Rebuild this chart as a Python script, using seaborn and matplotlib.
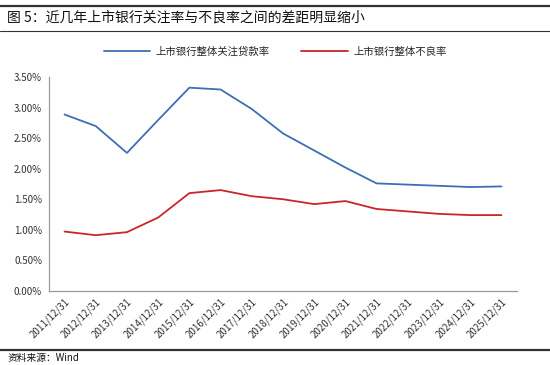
import numpy as np
import pandas as pd
import seaborn as sns
import matplotlib.pyplot as plt
from matplotlib.lines import Line2D
from matplotlib.ticker import FixedLocator, PercentFormatter

dates = ["2011/12/31", "2012/12/31", "2013/12/31", "2014/12/31", "2015/12/31",
         "2016/12/31", "2017/12/31", "2018/12/31", "2019/12/31", "2020/12/31",
         "2021/12/31", "2022/12/31", "2023/12/31", "2024/12/31", "2025/12/31"]
attention_rate = [2.89, 2.70, 2.26, 2.80, 3.33, 3.30, 2.98, 2.58, 2.30, 2.02,
                  1.76, 1.74, 1.72, 1.70, 1.71]
npl_rate = [0.97, 0.91, 0.96, 1.20, 1.60, 1.65, 1.55, 1.50, 1.42, 1.47,
            1.34, 1.30, 1.26, 1.24, 1.24]
series_names = ["上市银行整体关注贷款率", "上市银行整体不良率"]
colors = ["#3C6FB6", "#C8262B"]

sns.set_style("white")
plt.rcParams["font.family"] = ["Noto Sans CJK SC", "DejaVu Sans"]

df = pd.DataFrame({"idx": list(range(len(dates))) * 2,
                   "rate": attention_rate + npl_rate,
                   "series": [series_names[0]] * len(dates) + [series_names[1]] * len(dates)})

fig = plt.figure(figsize=(5.5, 3.65), dpi=100)
ax = fig.add_axes([0.089, 0.2036, 0.851, 0.5846])
sns.lineplot(data=df, x="idx", y="rate", hue="series", palette=colors,
             linewidth=1.3, ax=ax, legend=False)

ax.set_xlim(-0.5, len(dates) - 0.5)
ax.set_ylim(0, 3.5)
ax.set_yticks(np.arange(0, 3.51, 0.5))
ax.yaxis.set_major_formatter(PercentFormatter(decimals=2))
# ticks between categories, labels centred on the categories
ax.xaxis.set_major_locator(FixedLocator(np.arange(-0.5, len(dates), 1.0)))
ax.set_xticklabels([])
ax.xaxis.set_minor_locator(FixedLocator(np.arange(len(dates))))
ax.set_xticklabels(dates, minor=True, rotation=45, ha="right", rotation_mode="anchor", fontsize=7)
ax.tick_params(axis="x", which="minor", length=0, pad=4)
ax.tick_params(axis="x", which="major", length=3, direction="out")
ax.tick_params(axis="y", length=3, direction="out", labelsize=7, pad=2)
ax.tick_params(axis="both", which="both", color="#999999", labelcolor="#333333")
ax.set_xlabel("")
ax.set_ylabel("")
for s in ["top", "right"]:
    ax.spines[s].set_visible(False)
for s in ["left", "bottom"]:
    ax.spines[s].set_color("#999999")
    ax.spines[s].set_linewidth(0.9)

handles = [Line2D([], [], color=c, lw=1.3) for c in colors]
fig.legend(handles, series_names, loc="center", bbox_to_anchor=(0.5, 0.858), ncol=2,
           frameon=False, fontsize=7.5, handlelength=4.5, columnspacing=3, handletextpad=0.5)

fig.text(0.013, 0.953, "图 5：近几年上市银行关注率与不良率之间的差距明显缩小", fontsize=10,
         ha="left", va="center", color="#111111", fontweight="medium")
fig.add_artist(Line2D([0, 1], [0.983, 0.983], color="#333333", lw=1.6, transform=fig.transFigure))
fig.add_artist(Line2D([0, 1], [0.915, 0.915], color="#333333", lw=0.8, transform=fig.transFigure))
fig.add_artist(Line2D([0, 1], [0.041, 0.041], color="#333333", lw=1.6, transform=fig.transFigure))
fig.text(0.013, 0.018, "资料来源：Wind", fontsize=7, ha="left", va="center", color="#111111")

fig.savefig("out.png", dpi=100)
